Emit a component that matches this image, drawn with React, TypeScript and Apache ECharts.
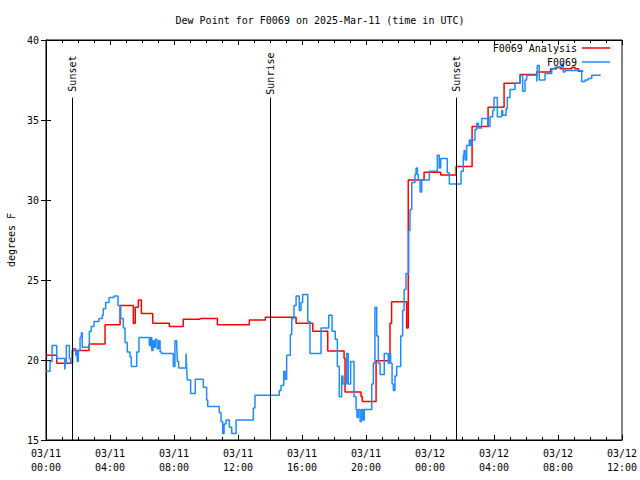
import React, { useEffect, useRef } from "react";
import * as echarts from "echarts";

const chartTitle = "Dew Point for F0069 on 2025-Mar-11 (time in UTC)";
const seriesNames = ["F0069 Analysis", "F0069"];
const yAxisName = "degrees F";

// hours since 03/11 00:00 UTC
const analysisHours = [0, 0.67, 1.64, 2.69, 3.69, 4.63, 5.46, 5.58, 5.77, 5.96, 6.67, 7.71, 8.58, 9.63, 10.71, 12.71, 13.71, 15.63, 16.67, 17.61, 18.63, 18.69, 19.69, 19.77, 20.63, 21.5, 21.6, 22.54, 22.64, 23.63, 24.67, 25.63, 26.63, 27.63, 28.63, 29.63, 30.67, 31.54, 31.92, 32.13, 32.86, 33.06, 33.27, 33.58];
const analysisValues = [20.3, 19.8, 20.6, 21.0, 22.2, 23.4, 22.3, 23.3, 23.75, 22.9, 22.3, 22.1, 22.54, 22.6, 22.2, 22.5, 22.67, 22.3, 21.8, 20.56, 20.1, 18.0, 17.7, 17.4, 19.96, 22.3, 23.64, 22.0, 31.25, 31.73, 31.56, 32.1, 34.6, 35.8, 37.3, 37.85, 38.0, 38.2, 38.3, 38.2, 38.3, 38.2, 38.05, 38.05];

const obsHours = [0, 0.25, 0.38, 0.67, 1.17, 1.21, 1.27, 1.46, 1.54, 1.67, 1.86, 1.92, 1.96, 2.02, 2.13, 2.21, 2.27, 2.71, 2.83, 3.0, 3.31, 3.52, 3.58, 3.73, 3.94, 4.25, 4.5, 4.67, 4.83, 4.94, 5.08, 5.25, 5.33, 5.67, 5.81, 6.46, 6.54, 6.61, 6.69, 6.75, 6.83, 6.94, 7.04, 7.13, 7.23, 7.96, 8.06, 8.17, 8.21, 8.29, 8.75, 8.79, 8.83, 9.04, 9.33, 9.83, 10.04, 10.11, 10.83, 10.94, 11.04, 11.13, 11.25, 11.46, 11.61, 11.88, 12.96, 13.06, 14.58, 14.69, 14.86, 14.94, 15.04, 15.27, 15.36, 15.5, 15.63, 15.83, 15.94, 16.04, 16.36, 16.5, 17.19, 17.67, 17.88, 18.08, 18.21, 18.33, 18.48, 18.56, 18.79, 18.89, 19.04, 19.25, 19.38, 19.44, 19.52, 19.63, 19.73, 19.83, 19.89, 20.36, 20.46, 20.56, 20.67, 20.77, 20.88, 21.14, 21.39, 21.46, 21.54, 21.63, 21.71, 21.81, 21.92, 22.17, 22.29, 22.38, 22.5, 22.67, 22.75, 22.86, 23.06, 23.13, 23.21, 23.27, 23.38, 23.48, 23.96, 24.46, 24.58, 24.67, 25.08, 25.21, 25.94, 26.08, 26.13, 26.19, 26.29, 26.46, 26.54, 26.61, 26.81, 26.92, 27.02, 27.23, 27.61, 27.75, 27.92, 28.0, 28.21, 28.48, 28.54, 28.75, 28.83, 29.0, 29.31, 29.63, 29.79, 29.94, 30.04, 30.67, 30.71, 30.83, 31.19, 31.61, 31.81, 32.23, 32.33, 32.44, 33.48, 33.69, 33.89, 34.11, 34.67];
const obsValues = [19.3, 19.9, 20.9, 20.1, 19.4, 19.8, 20.9, 20.1, 19.8, 20.7, 20.3, 20.6, 19.9, 20.6, 21.4, 21.7, 20.8, 21.8, 22.1, 22.4, 22.6, 22.8, 23.2, 23.6, 23.9, 24.0, 23.4, 22.6, 22.0, 21.1, 20.5, 20.2, 19.6, 20.5, 21.4, 20.9, 21.4, 20.6, 21.2, 20.8, 21.3, 20.7, 21.2, 20.5, 20.4, 19.6, 21.2, 20.9, 19.9, 19.5, 20.4, 19.5, 18.75, 17.9, 18.8, 18.3, 17.5, 17.1, 16.7, 16.15, 15.4, 16.0, 16.25, 15.8, 15.4, 16.25, 17.0, 17.8, 18.1, 18.4, 19.3, 18.8, 20.3, 21.6, 22.6, 23.4, 24.0, 23.1, 23.6, 24.1, 22.4, 20.4, 22.0, 22.8, 21.8, 21.3, 19.6, 17.7, 19.0, 18.5, 20.4, 18.5, 19.9, 17.7, 16.9, 16.4, 16.9, 16.15, 16.9, 16.25, 16.9, 18.5, 19.8, 23.3, 21.5, 19.8, 19.1, 20.4, 19.8, 20.4, 19.8, 18.5, 18.1, 19.0, 19.6, 21.5, 23.1, 24.4, 25.4, 28.1, 29.4, 31.1, 31.6, 32.0, 31.6, 31.25, 30.5, 31.25, 31.8, 32.8, 32.0, 32.6, 31.7, 31.0, 31.8, 32.8, 33.1, 32.5, 33.4, 33.75, 33.4, 33.75, 34.4, 34.8, 34.5, 35.1, 34.6, 35.2, 35.6, 36.4, 35.2, 35.6, 35.3, 35.7, 36.4, 36.9, 37.3, 37.8, 36.8, 37.5, 37.8, 37.4, 38.4, 37.5, 37.9, 38.2, 38.3, 38.5, 38.0, 38.1, 37.4, 37.5, 37.6, 37.8, 37.8];

const eventNames = ["Sunset", "Sunrise", "Sunset"];
const eventHours = [1.625, 14.0, 25.625];

const xMin = 0;
const xMax = 36;
const xInterval = 4;
const yMin = 15;
const yMax = 40;
const yInterval = 5;

const FONT = "DejaVu Sans Mono";

function fmtTime(v: number): string {
  const day = v < 24 ? "03/11" : "03/12";
  const h = Math.round(v % 24);
  return `${day}\n${h < 10 ? "0" + h : h}:00`;
}

export default function App() {
  const ref = useRef<HTMLDivElement>(null);
  useEffect(() => {
    if (!ref.current) return;
    const chart = echarts.init(ref.current, undefined, { renderer: "svg" });
    const analysisData = analysisHours.map((t, i) => [t, analysisValues[i]]);
    const obsData = obsHours.map((t, i) => [t, obsValues[i]]);
    const lineTop = 36.4;
    const labelCenter = 37.9;

    const axisCommon = {
      axisLine: { show: true, lineStyle: { color: "#000", width: 1 } },
      splitLine: { show: false },
    };

    chart.setOption({
      animation: false,
      backgroundColor: "#fff",
      title: {
        text: chartTitle,
        left: "center",
        top: 10,
        textStyle: { fontFamily: FONT, fontSize: 10, fontWeight: "normal", color: "#000" },
      },
      legend: {
        data: seriesNames,
        orient: "vertical",
        right: 30,
        top: 42,
        align: "right",
        icon: "rect",
        itemWidth: 28,
        itemHeight: 1.5,
        itemGap: 2,
        padding: 0,
        textStyle: { fontFamily: FONT, fontSize: 10, color: "#000", lineHeight: 12 },
      },
      grid: {
        left: 46,
        right: 18,
        top: 40,
        bottom: 40,
        outerBoundsMode: "none",
        containLabel: false,
        show: true,
        borderColor: "#000",
        borderWidth: 1,
        backgroundColor: "transparent",
      },
      xAxis: [
        {
          type: "value",
          min: xMin,
          max: xMax,
          interval: xInterval,
          position: "bottom",
          ...axisCommon,
          axisTick: { show: true, inside: true, length: 5, lineStyle: { color: "#000" } },
          minorTick: { show: true, splitNumber: 4, length: 3, lineStyle: { color: "#000" } },
          axisLabel: {
            formatter: fmtTime,
            fontFamily: FONT,
            fontSize: 10,
            color: "#000",
            lineHeight: 14,
            margin: 6,
          },
        },
        {
          type: "value",
          min: xMin,
          max: xMax,
          interval: xInterval,
          position: "top",
          ...axisCommon,
          axisTick: { show: true, inside: true, length: 5, lineStyle: { color: "#000" } },
          minorTick: { show: true, splitNumber: 4, length: 3, lineStyle: { color: "#000" } },
          axisLabel: { show: false },
        },
      ],
      yAxis: [
        {
          type: "value",
          min: yMin,
          max: yMax,
          interval: yInterval,
          position: "left",
          name: yAxisName,
          nameLocation: "middle",
          nameGap: 30,
          nameTextStyle: { fontFamily: FONT, fontSize: 10, color: "#000" },
          ...axisCommon,
          axisTick: { show: true, inside: true, length: 5, lineStyle: { color: "#000" } },
          axisLabel: { fontFamily: FONT, fontSize: 10, color: "#000", margin: 7 },
        },
        {
          type: "value",
          min: yMin,
          max: yMax,
          interval: yInterval,
          position: "right",
          ...axisCommon,
          axisTick: { show: true, inside: true, length: 5, lineStyle: { color: "#000" } },
          axisLabel: { show: false },
        },
      ],
      series: [
        {
          name: seriesNames[0],
          type: "line",
          step: "end",
          data: analysisData,
          symbol: "none",
          lineStyle: { color: "#ff0000", width: 1.5 },
          itemStyle: { color: "#ff0000" },
          markLine: {
            silent: true,
            symbol: ["none", "none"],
            label: { show: false },
            lineStyle: { color: "#000", width: 1, type: "solid" },
            data: eventHours.map((t) => [{ coord: [t, yMin] }, { coord: [t, lineTop] }]),
          },
          markPoint: {
            silent: true,
            symbol: "circle",
            symbolSize: 0,
            label: {
              show: true,
              position: "inside",
              rotate: 90,
              formatter: "{b}",
              fontFamily: FONT,
              fontSize: 10,
              color: "#000",
            },
            data: eventHours.map((t, i) => ({ name: eventNames[i], coord: [t, labelCenter] })),
          },
        },
        {
          name: seriesNames[1],
          type: "line",
          step: "end",
          data: obsData,
          symbol: "none",
          lineStyle: { color: "#1e8cff", width: 1.5 },
          itemStyle: { color: "#1e8cff" },
        },
      ],
    });
    return () => chart.dispose();
  }, []);
  return (
    <div
      ref={ref}
      style={{ position: "absolute", left: 0, top: 0, width: 640, height: 480 }}
    />
  );
}
